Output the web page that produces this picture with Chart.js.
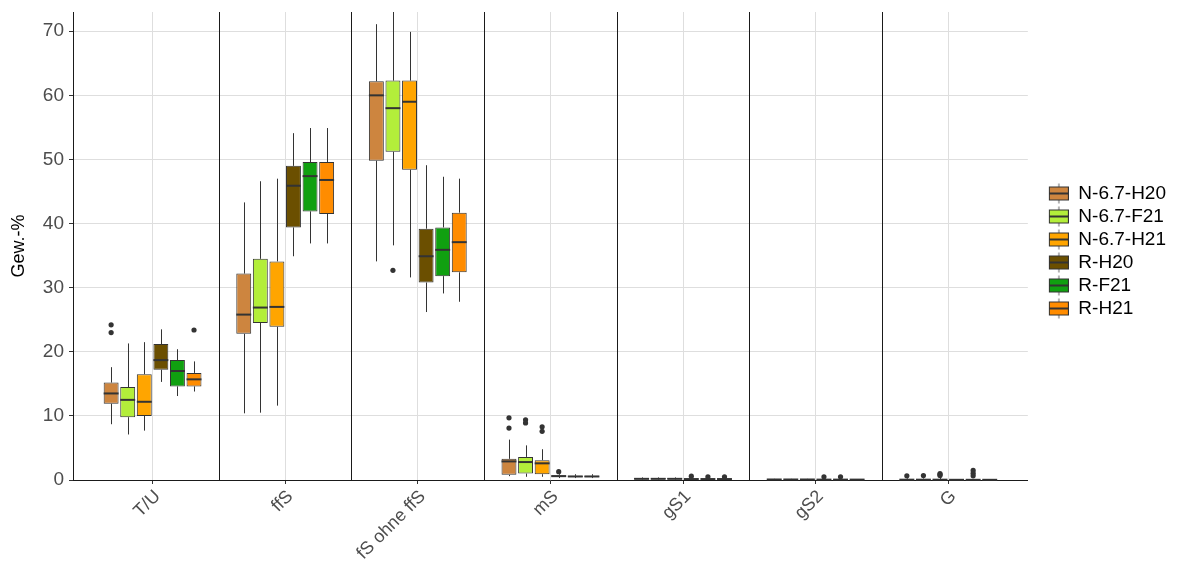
<!DOCTYPE html>
<html>
<head>
<meta charset="utf-8">
<script src="https://cdn.jsdelivr.net/npm/chart.js@4/dist/chart.umd.min.js"></script>
<style>
  html, body { margin: 0; padding: 0; background: #fff; }
  #wrap { width: 1184px; height: 569px; }
</style>
</head>
<body>
<div id="wrap"><canvas id="myChart" width="1184" height="569"></canvas></div>
<script>
// categories and series
var categories = ['T/U', 'ffS', 'fS ohne ffS', 'mS', 'gS1', 'gS2', 'G'];
var seriesNames = ['N-6.7-H20', 'N-6.7-F21', 'N-6.7-H21', 'R-H20', 'R-F21', 'R-H21'];
var seriesColors = ['#CD853F', '#B3EE3A', '#FFA500', '#6B4F00', '#10A010', '#FF8C00'];
var yTicks = [0, 10, 20, 30, 40, 50, 60, 70];

// box stats per category: [min, q1, median, q3, max]
var nH20 = [[8.7, 11.9, 13.5, 15.2, 17.6], [10.4, 22.8, 25.8, 32.2, 43.3], [34.1, 49.8, 60.0, 62.2, 71.1], [0.6, 0.8, 2.9, 3.3, 6.3], [0.05, 0.12, 0.18, 0.3, 0.4], [0.02, 0.05, 0.08, 0.12, 0.18], [0.0, 0.02, 0.05, 0.1, 0.25]];
var nF21 = [[7.1, 9.8, 12.5, 14.5, 21.3], [10.5, 24.5, 26.9, 34.5, 46.6], [36.6, 51.2, 58.0, 62.3, 73.5], [0.5, 1.0, 2.8, 3.6, 5.4], [0.05, 0.12, 0.18, 0.3, 0.4], [0.02, 0.05, 0.08, 0.12, 0.18], [0.0, 0.02, 0.05, 0.1, 0.25]];
var nH21 = [[7.7, 10.0, 12.2, 16.5, 21.5], [11.6, 23.9, 27.0, 34.1, 47.0], [31.6, 48.4, 59.0, 62.3, 69.9], [0.5, 0.9, 2.6, 3.1, 4.8], [0.05, 0.12, 0.18, 0.3, 0.4], [0.02, 0.05, 0.08, 0.12, 0.18], [0.0, 0.02, 0.05, 0.1, 0.3]];
var rH20 = [[15.3, 17.2, 18.7, 21.2, 23.5], [34.9, 39.4, 45.9, 49.0, 54.1], [26.2, 30.8, 34.9, 39.2, 49.1], [0.3, 0.5, 0.6, 0.75, 0.9], [0.02, 0.1, 0.15, 0.2, 0.3], [0.02, 0.04, 0.06, 0.1, 0.15], [0.0, 0.01, 0.03, 0.06, 0.12]];
var rF21 = [[13.1, 14.6, 17.0, 18.7, 20.4], [36.9, 41.9, 47.4, 49.6, 54.9], [29.1, 31.8, 35.9, 39.4, 47.3], [0.3, 0.45, 0.55, 0.65, 0.9], [0.02, 0.1, 0.15, 0.2, 0.3], [0.02, 0.04, 0.06, 0.1, 0.15], [0.0, 0.01, 0.03, 0.06, 0.15]];
var rH21 = [[13.8, 14.6, 15.7, 16.7, 18.5], [36.9, 41.5, 46.8, 49.6, 54.9], [27.8, 32.4, 37.1, 41.7, 47.0], [0.3, 0.45, 0.55, 0.65, 0.9], [0.02, 0.1, 0.15, 0.2, 0.3], [0.02, 0.04, 0.06, 0.1, 0.15], [0.0, 0.01, 0.03, 0.06, 0.12]];

// outliers per category
var nH20Out = [[24.2, 23.0], [], [], [9.7, 8.1], [], [], [0.65]];
var nF21Out = [[], [], [32.7], [9.4, 8.9], [], [], [0.7]];
var nH21Out = [[], [], [], [8.3, 7.6], [], [], [1.0, 0.85, 0.7]];
var rH20Out = [[], [], [], [1.3], [0.6], [0.5], []];
var rF21Out = [[], [], [], [], [0.5], [0.5], [1.5, 1.05, 0.65]];
var rH21Out = [[23.4], [], [], [], [0.5], [], []];

var allStats = [nH20, nF21, nH21, rH20, rF21, rH21];
var allOut = [nH20Out, nF21Out, nH21Out, rH20Out, rF21Out, rH21Out];

var fontFam = "'Liberation Sans', Arial, sans-serif";
var lineCol = '#333333';

// legend key: small boxplot glyph, drawn at the right end of a wider canvas
function legendIcon(color) {
    var c = document.createElement('canvas');
    c.width = 37; c.height = 22;
    var g = c.getContext('2d');
    var l = 17.5, w = 19, mid = l + w / 2;
    g.strokeStyle = '#666';
    g.lineWidth = 1;
    g.beginPath(); g.moveTo(mid, 1); g.lineTo(mid, 21); g.stroke();
    g.fillStyle = color;
    g.fillRect(l, 4.5, w, 13);
    g.strokeStyle = lineCol;
    g.strokeRect(l, 4.5, w, 13);
    g.lineWidth = 2;
    g.beginPath(); g.moveTo(l, 11); g.lineTo(l + w, 11); g.stroke();
    return c;
}

var datasets = seriesNames.map(function (name, d) {
    return {
        label: name,
        data: allStats[d].map(function (s, i) { return { x: i, y: [s[1], s[3]] }; }),
        backgroundColor: seriesColors[d],
        borderColor: lineCol,
        borderWidth: 1,
        borderSkipped: false,
        pointStyle: legendIcon(seriesColors[d]),
        categoryPercentage: 0.75,
        barPercentage: 0.9
    };
});

var boxExtras = {
    id: 'boxExtras',
    beforeDatasetsDraw: function (chart) {
        var ctx = chart.ctx, area = chart.chartArea, x = chart.scales.x, y = chart.scales.y;
        ctx.save();
        // facet separators
        ctx.strokeStyle = '#1a1a1a';
        ctx.lineWidth = 1;
        for (var k = 0; k < categories.length - 1; k++) {
            var px = Math.round(x.getPixelForValue(k + 0.5)) + 0.5;
            ctx.beginPath();
            ctx.moveTo(px, y.getPixelForValue(0));
            ctx.lineTo(px, area.top);
            ctx.stroke();
        }
        // whiskers
        ctx.beginPath();
        ctx.rect(area.left, area.top, area.width, area.height);
        ctx.clip();
        ctx.strokeStyle = lineCol;
        allStats.forEach(function (stats, d) {
            var meta = chart.getDatasetMeta(d);
            stats.forEach(function (s, i) {
                var bx = Math.round(meta.data[i].x) + 0.5;
                ctx.beginPath();
                ctx.moveTo(bx, y.getPixelForValue(s[0]));
                ctx.lineTo(bx, y.getPixelForValue(s[1]));
                ctx.moveTo(bx, y.getPixelForValue(s[3]));
                ctx.lineTo(bx, y.getPixelForValue(s[4]));
                ctx.stroke();
            });
        });
        ctx.restore();
    },
    afterDatasetsDraw: function (chart) {
        var ctx = chart.ctx, y = chart.scales.y;
        ctx.save();
        allStats.forEach(function (stats, d) {
            var meta = chart.getDatasetMeta(d);
            stats.forEach(function (s, i) {
                var bar = meta.data[i];
                var py = y.getPixelForValue(s[2]);
                ctx.strokeStyle = lineCol;
                ctx.lineWidth = 2;
                ctx.beginPath();
                ctx.moveTo(bar.x - bar.width / 2, py);
                ctx.lineTo(bar.x + bar.width / 2, py);
                ctx.stroke();
                ctx.fillStyle = lineCol;
                allOut[d][i].forEach(function (v) {
                    ctx.beginPath();
                    ctx.arc(bar.x, y.getPixelForValue(v), 2.6, 0, Math.PI * 2);
                    ctx.fill();
                });
            });
        });
        ctx.restore();
    }
};

var ctx = document.getElementById('myChart').getContext('2d');
var myChart = new Chart(ctx, {
    type: 'bar',
    data: { datasets: datasets },
    plugins: [boxExtras],
    options: {
        responsive: false,
        animation: false,
        layout: { padding: { top: 12, right: 8, left: 0, bottom: 0 } },
        plugins: {
            tooltip: { enabled: false },
            legend: {
                position: 'right',
                align: 'start',
                title: {
                    display: true,
                    text: ' ',
                    padding: { top: 158, bottom: 0 },
                    font: { family: fontFam, size: 10, lineHeight: 1 }
                },
                labels: {
                    usePointStyle: true,
                    pointStyleWidth: 37,
                    padding: 4,
                    color: '#000',
                    font: { family: fontFam, size: 19 }
                }
            }
        },
        scales: {
            x: {
                type: 'linear',
                min: -0.6,
                max: 6.6,
                offset: false,
                afterBuildTicks: function (scale) {
                    scale.ticks = categories.map(function (c, i) { return { value: i }; });
                },
                afterFit: function (scale) { scale.height = 89; },
                ticks: {
                    autoSkip: false,
                    minRotation: 45,
                    maxRotation: 45,
                    padding: 2,
                    labelOffset: 5,
                    color: '#4D4D4D',
                    font: { family: fontFam, size: 18 },
                    callback: function (v) { return categories[v]; }
                },
                grid: { color: '#DEDEDE', offset: false, tickColor: lineCol, tickLength: 4 },
                border: { color: '#1a1a1a', width: 1 }
            },
            y: {
                min: 0,
                max: 73,
                afterBuildTicks: function (scale) {
                    scale.ticks = yTicks.map(function (v) { return { value: v }; });
                },
                afterFit: function (scale) {
                    scale.width = 73;
                    scale.paddingTop = 0;
                },
                ticks: {
                    padding: 5,
                    color: '#4D4D4D',
                    font: { family: fontFam, size: 19 }
                },
                title: {
                    display: true,
                    text: 'Gew.-%',
                    color: '#000',
                    padding: { top: 8, bottom: 4 },
                    font: { family: fontFam, size: 18 }
                },
                grid: { color: '#DEDEDE', tickColor: lineCol, tickLength: 4 },
                border: { color: '#1a1a1a', width: 1 }
            }
        }
    }
});
</script>
</body>
</html>
